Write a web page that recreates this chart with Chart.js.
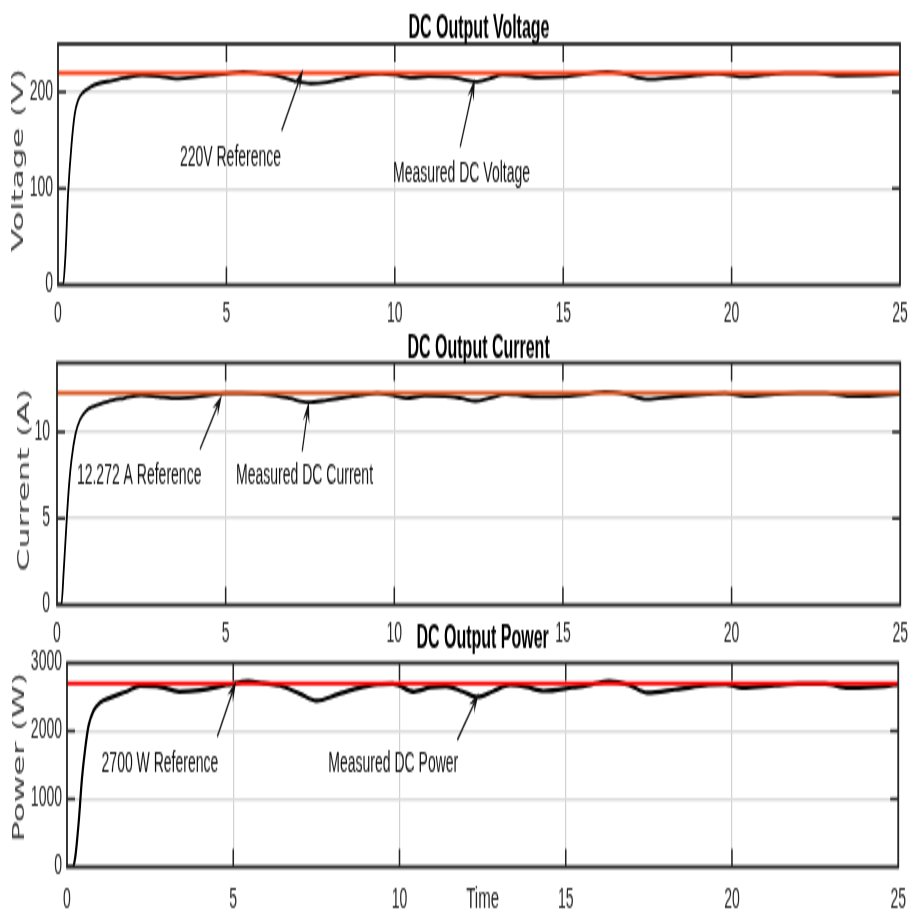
<!DOCTYPE html>
<html>
<head>
<meta charset="utf-8">
<title>DC Output Voltage / Current / Power</title>
<script src="https://cdn.jsdelivr.net/npm/chart.js@4.4.1/dist/chart.umd.min.js"></script>
<style>
  html, body { margin: 0; padding: 0; background: #fff; overflow: hidden; }
  /* the figure is drawn at half height, then stretched like the original image */
  #stage {
    position: absolute; left: 0; top: 0;
    width: 914px; height: 458px;
    transform: scaleY(2); transform-origin: 0 0;
  }
  #stage canvas { position: absolute; left: 0; }
</style>
</head>
<body>
<div id="stage">
  <canvas id="voltageChart" width="914" height="168" style="top:0;width:914px;height:168px"></canvas>
  <canvas id="currentChart" width="914" height="168" style="top:160px;width:914px;height:168px"></canvas>
  <canvas id="powerChart"   width="914" height="150" style="top:308px;width:914px;height:150px"></canvas>
</div>
<script>
'use strict';

// ─── Data ─────────────────────────────────────────────────────────────────────

const timeTicks = [0, 5, 10, 15, 20, 25];
const refTime   = [0, 25];

const voltageTicks = [0, 100, 200];
const voltageRef   = [220, 220];
const voltageTime  = [0, 0.15, 0.22, 0.3, 0.4, 0.5, 0.6, 0.75, 0.95, 1.2, 1.6, 2.0, 2.5, 3.0, 3.5,
  4.0, 4.5, 5.0, 5.5, 6.0, 6.5, 7.0, 7.5, 8.0, 8.5, 9.0, 9.6, 10.0, 10.5, 11.0, 11.6, 12.0,
  12.4, 12.8, 13.2, 13.7, 14.3, 15.0, 15.6, 16.3, 16.8, 17.5, 18.2, 19.0, 19.6, 20.3, 21.0,
  21.6, 22.5, 23.3, 24.2, 25];
const voltageMeasured = [0, 0, 30, 95, 145, 178, 192, 200, 205, 209, 212, 215, 217.5, 216.5, 214,
  215.5, 217.5, 219, 221.3, 219.5, 217, 212, 209, 210.5, 214, 217.5, 219.3, 218, 215, 216.5, 216, 213.5,
  211, 214, 218, 217.5, 215, 216, 218.5, 221.3, 219, 213.5, 215, 217.5, 219, 216, 218,
  219.6, 219.6, 217, 217.5, 219];

const currentTicks = [0, 5, 10];
const currentRef   = [12.272, 12.272];
const currentTime  = [0, 0.13, 0.2, 0.29, 0.36, 0.43, 0.55, 0.68, 0.85, 1.1, 1.5, 2.0, 2.5, 3.0,
  3.4, 3.9, 4.5, 5.0, 5.5, 6.0, 6.5, 6.9, 7.45, 8.0, 8.5, 9.0, 9.5, 10.0, 10.35, 10.9, 11.5, 12.0,
  12.4, 12.8, 13.3, 13.8, 14.3, 15.1, 15.8, 16.25, 16.8, 17.5, 18.3, 19.3, 19.8, 20.4, 21.3,
  22.0, 22.8, 23.5, 24.3, 25];
const currentMeasured = [0, 0, 2.0, 5.0, 7.0, 8.4, 9.9, 10.7, 11.2, 11.5, 11.77, 11.97, 12.15, 12.05,
  11.95, 12.0, 12.15, 12.24, 12.25, 12.22, 12.1, 11.95, 11.72, 11.85, 12.0, 12.15, 12.25, 12.1, 11.97, 12.1, 12.08, 11.95,
  11.8, 11.95, 12.2, 12.12, 12.05, 12.07, 12.22, 12.34, 12.22, 11.9, 12.06, 12.2, 12.24, 12.08, 12.2,
  12.25, 12.25, 12.08, 12.12, 12.2];

const powerTicks = [0, 1000, 2000, 3000];
const powerRef   = [2700, 2700];
const powerTime  = [0, 0.17, 0.25, 0.35, 0.45, 0.55, 0.65, 0.8, 1.0, 1.3, 1.8, 2.2, 2.7, 3.37,
  4.0, 4.8, 5.45, 5.9, 6.4, 7.0, 7.5, 8.15, 8.75, 9.35, 9.8, 10.44, 10.94, 11.4, 11.9, 12.34,
  12.8, 13.33, 13.8, 14.33, 15.2, 15.8, 16.3, 16.9, 17.45, 18.3, 19.3, 19.8, 20.3, 21.3,
  22.0, 22.8, 23.5, 24.6, 25];
const powerMeasured = [0, 0, 150, 650, 1300, 1750, 2080, 2300, 2420, 2490, 2580, 2665, 2660, 2578,
  2600, 2676, 2730, 2705, 2670, 2550, 2445, 2540, 2627, 2685, 2695, 2578, 2642, 2660, 2580, 2500,
  2580, 2676, 2650, 2588, 2640, 2688, 2730, 2680, 2563, 2610, 2676, 2690, 2637, 2670,
  2695, 2695, 2637, 2660, 2690];

// ─── Helpers ──────────────────────────────────────────────────────────────────

const INK       = '#262626';
const TEXT_FONT = '"Liberation Sans", Arial, sans-serif';

Chart.defaults.font.family = TEXT_FONT;
Chart.defaults.color = INK;

function toPoints(xs, ys) {
  return xs.map((x, i) => ({ x, y: ys[i] }));
}

function drawArrow(ctx, x0, y0, x1, y1) {
  const ang  = Math.atan2(y1 - y0, x1 - x0);
  const len  = 11;
  const half = 3.4;
  ctx.beginPath();
  ctx.moveTo(x0, y0);
  ctx.lineTo(x1 - Math.cos(ang) * len * 0.6, y1 - Math.sin(ang) * len * 0.6);
  ctx.stroke();
  ctx.save();
  ctx.translate(x1, y1);
  ctx.rotate(ang);
  ctx.beginPath();
  ctx.moveTo(0, 0);
  ctx.lineTo(-len, -half);
  ctx.lineTo(-len * 0.62, 0);
  ctx.lineTo(-len, half);
  ctx.closePath();
  ctx.fill();
  ctx.restore();
}

// ─── Panel decoration (box, inner ticks, title, notes) ────────────────────────

function panelDecor(cfg) {
  return {
    id: 'panelDecor',
    afterDraw(chart) {
      const { ctx, chartArea: a } = chart;
      const x = chart.scales.x;
      const y = chart.scales.y;
      ctx.save();

      // inner tick marks, matlab style
      ctx.strokeStyle = INK;
      ctx.lineWidth = 1.5;
      ctx.beginPath();
      timeTicks.filter((t) => t > x.min && t < x.max).forEach((t) => {
        const px = x.getPixelForValue(t);
        ctx.moveTo(px, a.bottom); ctx.lineTo(px, a.bottom - 9);
        ctx.moveTo(px, a.top);    ctx.lineTo(px, a.top + 9);
      });
      cfg.yTicks.filter((v) => v > y.min && v < y.max).forEach((v) => {
        const py = y.getPixelForValue(v);
        ctx.moveTo(a.left, py);  ctx.lineTo(a.left + 8, py);
        ctx.moveTo(a.right, py); ctx.lineTo(a.right - 8, py);
      });
      ctx.stroke();

      // axes box
      ctx.lineWidth = 1.8;
      ctx.strokeRect(a.left, a.top, a.right - a.left, a.bottom - a.top);

      // title
      ctx.fillStyle = '#000';
      ctx.font = `bold 16px ${TEXT_FONT}`;
      ctx.textAlign = 'center';
      ctx.textBaseline = 'alphabetic';
      ctx.fillText(cfg.title, (a.left + a.right) / 2, a.top - cfg.titleGap);

      // x label
      if (cfg.xLabel) {
        ctx.fillStyle = INK;
        ctx.font = `15px ${TEXT_FONT}`;
        ctx.fillText(cfg.xLabel, (a.left + a.right) / 2, chart.height - 4.5);
      }

      // annotations + arrows
      ctx.fillStyle = '#111';
      ctx.strokeStyle = '#111';
      ctx.lineWidth = 1.2;
      ctx.font = `14px ${TEXT_FONT}`;
      ctx.textAlign = 'left';
      cfg.notes.forEach((n) => {
        ctx.fillText(n.text, x.getPixelForValue(n.t), y.getPixelForValue(n.v));
        drawArrow(ctx,
          x.getPixelForValue(n.from[0]), y.getPixelForValue(n.from[1]),
          x.getPixelForValue(n.to[0]),   y.getPixelForValue(n.to[1]));
      });

      // y label
      ctx.translate(cfg.yLabelX, cfg.yLabelY);
      ctx.rotate(-Math.PI / 2);
      ctx.fillStyle = '#404040';
      ctx.font = '16.5px "DejaVu Sans", sans-serif';
      ctx.textAlign = 'center';
      ctx.textBaseline = 'middle';
      ctx.fillText(cfg.yLabel, 0, 0);

      ctx.restore();
    },
  };
}

// ─── Panel chart ──────────────────────────────────────────────────────────────

function buildPanel(canvasId, cfg) {
  new Chart(document.getElementById(canvasId), {
    type: 'line',
    data: {
      datasets: [{
        label: 'Reference',
        data: toPoints(refTime, cfg.ref),
        borderColor: cfg.refColor,
        borderWidth: 2.1,
        pointRadius: 0,
        order: 0,
      }, {
        label: 'Measured',
        data: toPoints(cfg.time, cfg.measured),
        borderColor: '#000',
        borderWidth: cfg.lineWidth,
        pointRadius: 0,
        cubicInterpolationMode: 'monotone',
        order: 1,
      }],
    },
    options: {
      responsive: false,
      animation: false,
      devicePixelRatio: 1,
      layout: { padding: { left: 0, top: cfg.top, right: cfg.right, bottom: 0 } },
      plugins: { legend: { display: false }, tooltip: { enabled: false } },
      scales: {
        x: {
          type: 'linear',
          min: 0,
          max: 25,
          afterBuildTicks: (s) => { s.ticks = timeTicks.map((v) => ({ value: v })); },
          afterFit: (s) => { s.height = cfg.xAxisHeight; },
          grid: { color: '#d2d2d2', lineWidth: 1.2, drawTicks: false },
          border: { display: false },
          ticks: { font: { size: 14 }, padding: cfg.xTickPad, maxRotation: 0, callback: (v) => String(v) },
        },
        y: {
          type: 'linear',
          min: 0,
          max: cfg.yMax,
          afterBuildTicks: (s) => { s.ticks = cfg.yTicks.map((v) => ({ value: v })); },
          afterFit: (s) => { s.width = cfg.left; },
          grid: { color: '#dcdcdc', lineWidth: 1.6, drawTicks: false },
          border: { display: false },
          ticks: { font: { size: 14 }, padding: cfg.yTickPad, callback: (v) => String(v) },
        },
      },
    },
    plugins: [panelDecor(cfg)],
  });
}

// ─── Init ─────────────────────────────────────────────────────────────────────

buildPanel('voltageChart', {
  time: voltageTime, measured: voltageMeasured, ref: voltageRef,
  refColor: '#ff3a12', lineWidth: 1.8,
  yMax: 250, yTicks: voltageTicks,
  left: 58, right: 14, top: 22, xAxisHeight: 25.5, xTickPad: 6, yTickPad: 5,
  title: 'DC Output Voltage', titleGap: 3,
  yLabel: 'Voltage (V)', yLabelX: 18.5, yLabelY: 80,
  notes: [
    { text: '220V Reference', t: 3.62, v: 124, from: [6.64, 160], to: [7.28, 224] },
    { text: 'Measured DC Voltage', t: 9.95, v: 107, from: [11.94, 143], to: [12.38, 214] },
  ],
});

buildPanel('currentChart', {
  time: currentTime, measured: currentMeasured, ref: currentRef,
  refColor: '#d95319', lineWidth: 1.8,
  yMax: 14, yTicks: currentTicks,
  left: 57, right: 10, top: 21.5, xAxisHeight: 25.5, xTickPad: 6, yTickPad: 7,
  title: 'DC Output Current', titleGap: 3,
  yLabel: 'Current (A)', yLabelX: 25, yLabelY: 80,
  notes: [
    { text: '12.272 A Reference', t: 0.59, v: 6.95, from: [4.24, 9.0], to: [4.89, 12.15] },
    { text: 'Measured DC Current', t: 5.31, v: 6.95, from: [7.27, 8.9], to: [7.47, 11.8] },
  ],
});

buildPanel('powerChart', {
  time: powerTime, measured: powerMeasured, ref: powerRef,
  refColor: '#ff0000', lineWidth: 2.2,
  yMax: 3000, yTicks: powerTicks,
  left: 67, right: 10, top: 23.5, xAxisHeight: 24.5, xTickPad: 8, yTickPad: 5,
  title: 'DC Output Power', titleGap: 7.5,
  xLabel: 'Time',
  yLabel: 'Power (W)', yLabelX: 20, yLabelY: 70.5,
  notes: [
    { text: '2700 W Reference', t: 1.04, v: 1397, from: [4.52, 1916], to: [5.09, 2740] },
    { text: 'Measured DC Power', t: 7.86, v: 1397, from: [11.74, 1868], to: [12.39, 2560] },
  ],
});
</script>
</body>
</html>
